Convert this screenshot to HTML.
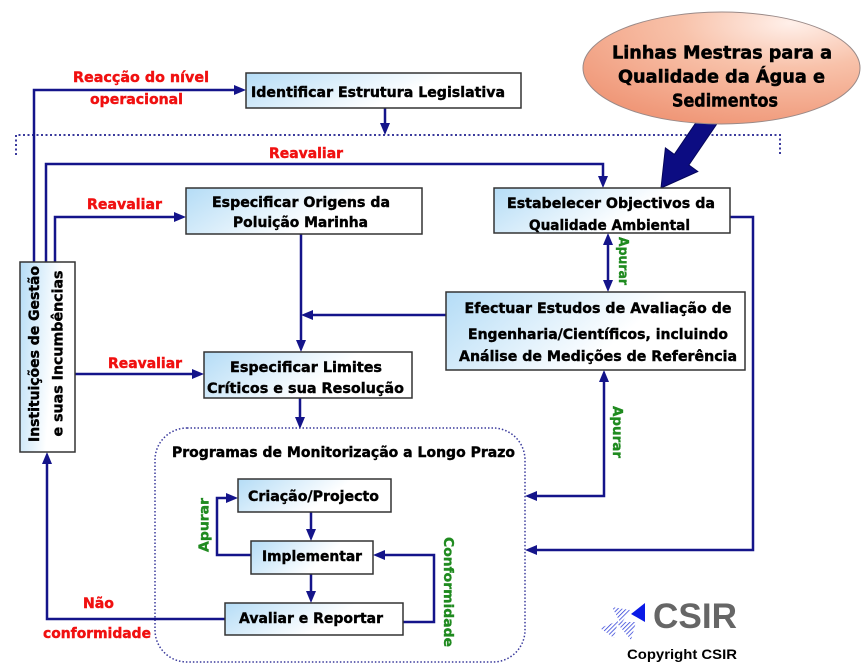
<!DOCTYPE html>
<html><head><meta charset="utf-8">
<style>
html,body{margin:0;padding:0;background:#fff;}
svg{display:block;}
text{font-family:"DejaVu Sans","Liberation Sans",sans-serif;font-weight:bold;}
</style></head>
<body>
<svg width="868" height="669" viewBox="0 0 868 669" xmlns="http://www.w3.org/2000/svg">
<defs>
<linearGradient id="bx" x1="0" y1="0" x2="1" y2="0.3">
<stop offset="0" stop-color="#b4dcf6"/>
<stop offset="0.7" stop-color="#ffffff"/>
<stop offset="1" stop-color="#ffffff"/>
</linearGradient>
<radialGradient id="el" cx="0.75" cy="0.1" r="1.0">
<stop offset="0" stop-color="#fff0ea"/>
<stop offset="0.4" stop-color="#f8c2aa"/>
<stop offset="1" stop-color="#ef9474"/>
</radialGradient>
<pattern id="hatch" width="3" height="3" patternUnits="userSpaceOnUse" patternTransform="rotate(45)">
<rect width="3" height="3" fill="#fff"/>
<line x1="0" y1="0" x2="0" y2="3" stroke="#2a3ad8" stroke-width="1.5"/>
</pattern>
</defs>
<rect width="868" height="669" fill="#fff"/>

<!-- dotted lines -->
<path d="M16,155 V135 H780 V155" fill="none" stroke="#3a3a9c" stroke-width="2" stroke-dasharray="2,2.5"/>
<rect x="155" y="428" width="370" height="234" rx="32" ry="32" fill="none" stroke="#3a3a9c" stroke-width="1.5" stroke-dasharray="1.5,2"/>

<!-- connectors -->
<g fill="none" stroke="#14148a" stroke-width="2.5">
<path d="M34,262 V90 H236"/>
<path d="M46,262 V164 H603 V178"/>
<path d="M55,262 V217 H176"/>
<path d="M385,108 V125"/>
<path d="M301,234 V342"/>
<path d="M446,315 H311"/>
<path d="M75,374 H194"/>
<path d="M300,398 V419"/>
<path d="M608,243 V282"/>
<path d="M730,217 H753 V550 H535"/>
<path d="M604,380 V496 H535"/>
<path d="M311,512 V531"/>
<path d="M311,574 V593"/>
<path d="M251,555 H217 V498 H228"/>
<path d="M403,622 H434 V555 H383"/>
<path d="M225,619 H47 V462"/>
</g>
<g fill="#14148a">
<polygon points="246,90 234,85 234,95"/>
<polygon points="603,188 598,176 608,176"/>
<polygon points="186,217 174,212 174,222"/>
<polygon points="385,135 380,123 390,123"/>
<polygon points="301,352 296,340 306,340"/>
<polygon points="301,315 313,310 313,320"/>
<polygon points="204,374 192,369 192,379"/>
<polygon points="300,429 295,417 305,417"/>
<polygon points="608,233 603,245 613,245"/>
<polygon points="608,292 603,280 613,280"/>
<polygon points="525,550 537,545 537,555"/>
<polygon points="604,370 599,382 609,382"/>
<polygon points="525,496 537,491 537,501"/>
<polygon points="311,541 306,529 316,529"/>
<polygon points="311,603 306,591 316,591"/>
<polygon points="238,498 226,493 226,503"/>
<polygon points="373,555 385,550 385,560"/>
<polygon points="47,452 42,464 52,464"/>
</g>

<!-- big arrow -->
<polygon points="704.7,109.7 719.3,120.3 688.9,165 697.8,171.5 661,188 665.4,147.9 674.3,154.4" fill="#0c0c82" stroke="#06065a" stroke-width="1"/>

<!-- ellipse -->
<ellipse cx="721.5" cy="68" rx="138.5" ry="56" fill="url(#el)" stroke="#9a8a88" stroke-width="1"/>
<g font-size="17.5" fill="#000" stroke="#000" stroke-width="0.5" text-anchor="middle">
<text x="722" y="58.5" textLength="220" lengthAdjust="spacingAndGlyphs">Linhas Mestras para a</text>
<text x="721.5" y="82.5" textLength="207" lengthAdjust="spacingAndGlyphs">Qualidade da Água e</text>
<text x="725" y="106.5" textLength="106" lengthAdjust="spacingAndGlyphs">Sedimentos</text>
</g>

<!-- boxes -->
<g fill="url(#bx)" stroke="#333" stroke-width="1.5">
<rect x="246" y="73" width="275" height="35"/>
<rect x="186" y="188" width="236" height="46"/>
<rect x="494" y="188" width="236" height="45"/>
<rect x="446" y="292" width="299" height="78"/>
<rect x="204" y="352" width="208" height="46"/>
<rect x="20" y="262" width="55" height="190"/>
<rect x="238" y="479" width="153" height="33"/>
<rect x="251" y="541" width="122" height="33"/>
<rect x="225" y="603" width="178" height="32"/>
</g>

<g font-size="14" fill="#000" stroke="#000" stroke-width="0.4" text-anchor="middle">
<text x="378" y="97" textLength="254" lengthAdjust="spacingAndGlyphs">Identificar Estrutura Legislativa</text>
<text x="301" y="207" textLength="178" lengthAdjust="spacingAndGlyphs">Especificar Origens da</text>
<text x="300.5" y="227" textLength="135" lengthAdjust="spacingAndGlyphs">Poluição Marinha</text>
<text x="611" y="208" textLength="208" lengthAdjust="spacingAndGlyphs">Estabelecer Objectivos da</text>
<text x="609.5" y="230" textLength="161" lengthAdjust="spacingAndGlyphs">Qualidade Ambiental</text>
<text x="598" y="313" textLength="267" lengthAdjust="spacingAndGlyphs">Efectuar Estudos de Avaliação de</text>
<text x="598" y="339" textLength="260" lengthAdjust="spacingAndGlyphs">Engenharia/Científicos, incluindo</text>
<text x="598" y="361" textLength="278" lengthAdjust="spacingAndGlyphs">Análise de Medições de Referência</text>
<text x="306" y="372" textLength="152" lengthAdjust="spacingAndGlyphs">Especificar Limites</text>
<text x="305.5" y="393" textLength="197" lengthAdjust="spacingAndGlyphs">Críticos e sua Resolução</text>
<text x="313.5" y="501" textLength="131" lengthAdjust="spacingAndGlyphs">Criação/Projecto</text>
<text x="312" y="561" textLength="100" lengthAdjust="spacingAndGlyphs">Implementar</text>
<text x="311" y="623" textLength="144" lengthAdjust="spacingAndGlyphs">Avaliar e Reportar</text>
<text x="343.5" y="457" textLength="343" lengthAdjust="spacingAndGlyphs">Programas de Monitorização a Longo Prazo</text>
<text transform="translate(39,354) rotate(-90)" textLength="176" lengthAdjust="spacingAndGlyphs">Instituições de Gestão</text>
<text transform="translate(62.5,353.5) rotate(-90)" textLength="166" lengthAdjust="spacingAndGlyphs">e suas Incumbências</text>
</g>

<!-- red labels -->
<g font-size="14" fill="#f01010" stroke="#f01010" stroke-width="0.4" text-anchor="middle">
<text x="141" y="82" textLength="136" lengthAdjust="spacingAndGlyphs">Reacção do nível</text>
<text x="136.5" y="104" textLength="93" lengthAdjust="spacingAndGlyphs">operacional</text>
<text x="306" y="158" textLength="74" lengthAdjust="spacingAndGlyphs">Reavaliar</text>
<text x="124.5" y="209" textLength="75" lengthAdjust="spacingAndGlyphs">Reavaliar</text>
<text x="145" y="368" textLength="74" lengthAdjust="spacingAndGlyphs">Reavaliar</text>
<text x="98.5" y="608" textLength="31" lengthAdjust="spacingAndGlyphs">Não</text>
<text x="97" y="638" textLength="108" lengthAdjust="spacingAndGlyphs">conformidade</text>
</g>

<!-- green labels -->
<g font-size="13.5" fill="#1f8a1f" stroke="#1f8a1f" stroke-width="0.35" text-anchor="middle">
<text transform="translate(619,261) rotate(90)" textLength="48" lengthAdjust="spacingAndGlyphs">Apurar</text>
<text transform="translate(613,432) rotate(90)" textLength="52" lengthAdjust="spacingAndGlyphs">Apurar</text>
<text transform="translate(208.5,525) rotate(-90)" textLength="54" lengthAdjust="spacingAndGlyphs">Apurar</text>
<text transform="translate(444,592) rotate(90)" textLength="110" lengthAdjust="spacingAndGlyphs">Conformidade</text>
</g>

<!-- CSIR logo -->
<polygon points="645,603 645,622 631,614" fill="#0a1ae6"/>
<g fill="url(#hatch)">
<polygon points="612,607 630,610 621,624"/>
<polygon points="600,628 618,621 614,638"/>
<polygon points="616,622 636,622 631,640"/>
</g>
<text x="653" y="628" font-size="35" fill="#666" textLength="84" lengthAdjust="spacingAndGlyphs" style="font-family:'Liberation Sans',sans-serif">CSIR</text>
<text x="627" y="659" font-size="14" fill="#000" textLength="110" lengthAdjust="spacingAndGlyphs" style="font-family:'Liberation Sans',sans-serif">Copyright  CSIR</text>
</svg>
</body></html>
